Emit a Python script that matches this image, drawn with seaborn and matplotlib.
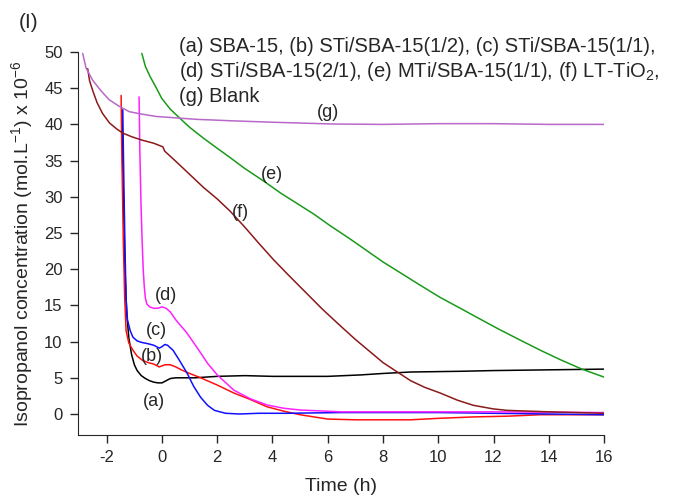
import numpy as np
import pandas as pd
import matplotlib
matplotlib.use("Agg")
import matplotlib.pyplot as plt
import seaborn as sns

sns.set_style("ticks")
plt.rcParams['font.family'] = ['Liberation Sans', 'DejaVu Sans']
plt.rcParams['mathtext.fontset'] = 'custom'
plt.rcParams['mathtext.rm'] = 'Liberation Sans'
plt.rcParams['axes.unicode_minus'] = False

# (a) SBA-15 - black
t_a = [-1.45, -1.42, -1.38, -1.34, -1.28, -1.2, -1.1, -1.0, -0.9, -0.75, -0.6, -0.45, -0.3, -0.15, 0.0, 0.15, 0.3, 0.5, 0.8, 1.2, 2.0, 3.0, 4.0, 5.0, 6.0, 7.2, 8.0, 9.0, 10.8, 12.0, 14.0, 16.0]
c_a = [42.0, 34.0, 27.0, 20.0, 14.0, 10.5, 8.2, 6.8, 6.0, 5.3, 4.9, 4.6, 4.4, 4.3, 4.3, 4.6, 4.9, 5.0, 5.0, 5.0, 5.2, 5.3, 5.2, 5.2, 5.2, 5.4, 5.6, 5.8, 5.9, 6.0, 6.1, 6.2]
# (b) STi/SBA-15(1/2) - red
t_b = [-1.48, -1.45, -1.4, -1.35, -1.3, -1.2, -1.05, -0.9, -0.7, -0.5, -0.3, -0.1, 0.1, 0.3, 0.5, 0.7, 1.0, 1.4, 2.0, 2.6, 3.2, 3.8, 4.4, 5.0, 6.0, 7.0, 8.0, 9.0, 10.0, 11.3, 12.5, 13.7, 16.0]
c_b = [44.0, 35.0, 24.0, 16.0, 11.5, 9.8, 8.8, 8.0, 7.4, 7.1, 6.9, 6.5, 6.8, 6.8, 6.5, 6.1, 5.6, 5.0, 4.0, 2.9, 2.0, 1.0, 0.4, -0.1, -0.7, -0.8, -0.8, -0.8, -0.6, -0.4, -0.3, -0.1, -0.1]
# (c) STi/SBA-15(1/1) - blue
t_c = [-1.42, -1.38, -1.34, -1.3, -1.25, -1.15, -1.05, -0.9, -0.75, -0.5, -0.3, -0.1, 0.0, 0.1, 0.2, 0.4, 0.6, 0.9, 1.15, 1.4, 1.65, 1.9, 2.3, 2.8, 3.5, 4.5, 6.5, 8.0, 10.0, 12.0, 14.0, 16.0]
c_c = [42.0, 32.0, 23.0, 16.0, 13.0, 11.5, 10.6, 10.1, 9.9, 9.7, 9.5, 9.1, 9.3, 9.6, 9.5, 8.8, 7.6, 5.7, 3.8, 2.3, 1.2, 0.5, 0.1, 0.0, 0.1, 0.1, 0.2, 0.2, 0.2, 0.1, 0.0, -0.1]
# (d) STi/SBA-15(2/1) - magenta
t_d = [-0.83, -0.8, -0.76, -0.72, -0.68, -0.64, -0.6, -0.55, -0.45, -0.3, -0.15, 0.0, 0.15, 0.3, 0.5, 0.9, 1.3, 1.65, 2.0, 2.6, 3.2, 3.8, 4.4, 5.0, 6.5, 8.0, 10.0, 12.0, 14.0, 16.0]
c_d = [43.8, 36.0, 29.0, 24.0, 20.0, 17.5, 16.0, 15.2, 14.8, 14.6, 14.6, 14.8, 14.6, 14.1, 13.0, 11.2, 9.0, 7.0, 5.4, 3.3, 2.1, 1.25, 0.8, 0.55, 0.3, 0.3, 0.3, 0.3, 0.25, 0.2]
# (e) MTi/SBA-15(1/1) - green
t_e = [-0.73, -0.6, -0.43, -0.2, -0.01, 0.3, 0.66, 1.0, 1.5, 2.0, 2.47, 3.0, 3.67, 4.3, 4.88, 5.5, 6.09, 6.8, 7.4, 8.0, 8.63, 9.3, 10.07, 10.8, 11.52, 12.2, 12.97, 13.7, 14.42, 15.2, 16.0]
c_e = [49.8, 48.0, 46.6, 45.0, 43.6, 42.1, 40.8, 39.6, 38.1, 36.7, 35.4, 33.9, 32.2, 30.5, 29.1, 27.6, 26.0, 24.2, 22.6, 21.0, 19.5, 17.9, 16.1, 14.6, 13.1, 11.7, 10.2, 8.8, 7.5, 6.2, 5.1]
# (f) LT-TiO2 - dark red
t_f = [-2.69, -2.62, -2.51, -2.35, -2.15, -1.9, -1.65, -1.42, -1.1, -0.7, -0.3, 0.03, 0.1, 0.5, 1.0, 1.5, 2.0, 2.47, 3.0, 3.5, 4.04, 4.6, 5.2, 5.8, 6.45, 7.0, 7.5, 8.0, 8.52, 9.0, 9.5, 10.07, 10.7, 11.27, 12.0, 12.5, 14.0, 16.0]
c_f = [47.7, 46.0, 44.7, 43.0, 41.5, 40.2, 39.4, 38.8, 38.3, 37.8, 37.4, 36.9, 36.3, 34.9, 33.1, 31.3, 29.7, 28.0, 25.8, 23.6, 21.3, 19.1, 16.8, 14.5, 12.2, 10.3, 8.7, 7.1, 5.8, 4.6, 3.7, 2.9, 1.9, 1.2, 0.7, 0.5, 0.3, 0.1]
# (g) Blank - purple
t_g = [-2.87, -2.75, -2.51, -2.2, -1.91, -1.55, -1.18, -0.7, -0.22, 0.5, 1.24, 2.5, 4.0, 6.2, 8.0, 10.0, 12.0, 14.0, 16.0]
c_g = [49.8, 47.8, 46.1, 44.6, 43.4, 42.5, 41.75, 41.4, 41.1, 40.9, 40.7, 40.5, 40.3, 40.05, 40.0, 40.1, 40.1, 40.0, 40.0]

series = [("a", t_a, c_a, "#000000"), ("b", t_b, c_b, "#ff1010"),
          ("c", t_c, c_c, "#1010ff"), ("d", t_d, c_d, "#ff20ff"),
          ("e", t_e, c_e, "#1a9a1a"), ("f", t_f, c_f, "#8b1a1a"),
          ("g", t_g, c_g, "#b868c8")]

labels = ["(a)", "(b)", "(c)", "(d)", "(e)", "(f)", "(g)"]
label_x = [-0.29, -0.36, -0.2, 0.15, 3.99, 2.83, 6.0]
label_y = [1.7, 7.9, 11.6, 16.3, 33.1, 27.8, 41.6]

fig, ax = plt.subplots(figsize=(6.76, 4.98), dpi=100)
fig.subplots_adjust(left=0.1154, right=0.8935, bottom=0.1265, top=0.8956)

for name, t, c, col in series:
    df = pd.DataFrame({"t": t, "c": c})
    sns.lineplot(data=df, x="t", y="c", color=col, lw=1.1, ax=ax, sort=False, estimator=None)

for lab, lx, ly in zip(labels, label_x, label_y):
    ax.text(lx, ly, lab, fontsize=13, ha="center", va="center")

ax.set_xlim(-3.04, 16.0)
ax.set_ylim(-2.9, 50.0)
ax.set_xticks(range(-2, 17, 2))
ax.set_yticks(range(0, 51, 5))
sns.despine(ax=ax)
ax.tick_params(labelsize=12, direction="out", length=6, width=1, pad=5)
ax.set_xlabel("Time (h)", fontsize=14, labelpad=9)
ax.set_ylabel("Isopropanol concentration (mol.L$^{-1}$) x 10$^{-6}$", fontsize=14, labelpad=6)

fig.text(0.027, 0.955, "(I)", fontsize=15, va="center", ha="left")
fig.text(0.265, 0.906, "(a) SBA-15, (b) STi/SBA-15(1/2), (c) STi/SBA-15(1/1),", fontsize=14.5, va="center", ha="left")
fig.text(0.265, 0.857, "(d) STi/SBA-15(2/1), (e) MTi/SBA-15(1/1), (f) LT-TiO$_2$,", fontsize=14.5, va="center", ha="left")
fig.text(0.265, 0.807, "(g) Blank", fontsize=14.5, va="center", ha="left")

fig.savefig("out.png", dpi=100)
